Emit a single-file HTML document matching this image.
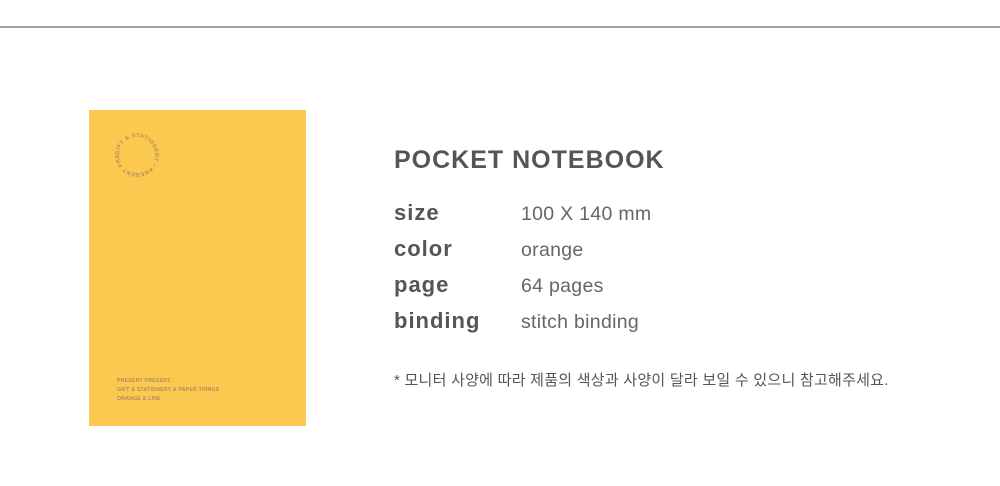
<!DOCTYPE html>
<html><head><meta charset="utf-8"><style>
body{margin:0;width:1000px;height:486px;background:#fff;position:relative;overflow:hidden;font-family:"Liberation Sans","Noto Sans CJK KR",sans-serif;color:#555}
.line{position:absolute;left:0;top:26px;width:1000px;height:2px;background:#a0a0a0}
.cover{position:absolute;left:89px;top:110px;width:217px;height:316px;background:#fbc94f}
.t{position:absolute;white-space:nowrap}
.lab{position:absolute;left:394px;font-weight:bold;font-size:22px;letter-spacing:1px;color:#555}
.val{position:absolute;left:521px;font-size:19.5px;letter-spacing:0.3px;color:#666}
.sm{position:absolute;left:28px;font-size:5.2px;font-weight:bold;color:#b08c5a;letter-spacing:.2px}
</style></head><body>
<div class="line"></div>
<div class="cover">
<svg width="217" height="316" style="position:absolute;left:0;top:0">
<defs><path id="c" d="M30,45 a18,18 0 1,1 36,0 a18,18 0 1,1 -36,0"/></defs>
<text font-family="Liberation Sans" font-size="5.5" font-weight="bold" fill="#b08c5a" letter-spacing="0.5"><textPath href="#c">GIFT &amp; STATIONERY • PRESENT PRESENT •</textPath></text>
</svg>
<div class="sm" style="top:268px">PRESENT PRESENT.</div>
<div class="sm" style="top:277px">GIFT &amp; STATIONERY &amp; PAPER THINGS</div>
<div class="sm" style="top:286px">ORANGE &amp; LINE</div>
</div>
<div class="t" style="left:394px;top:146px;font-size:25px;font-weight:bold;letter-spacing:1px;color:#555">POCKET NOTEBOOK</div>
<div class="lab" style="top:200px">size</div><div class="val" style="top:203px">100 X 140 mm</div>
<div class="lab" style="top:236px">color</div><div class="val" style="top:239px">orange</div>
<div class="lab" style="top:272px">page</div><div class="val" style="top:275px">64 pages</div>
<div class="lab" style="top:308px">binding</div><div class="val" style="top:311px">stitch binding</div>
<div class="t" style="left:394px;top:369px;font-size:15px;letter-spacing:0.25px;color:#555">* 모니터 사양에 따라 제품의 색상과 사양이 달라 보일 수 있으니 참고해주세요.</div>
</body></html>
